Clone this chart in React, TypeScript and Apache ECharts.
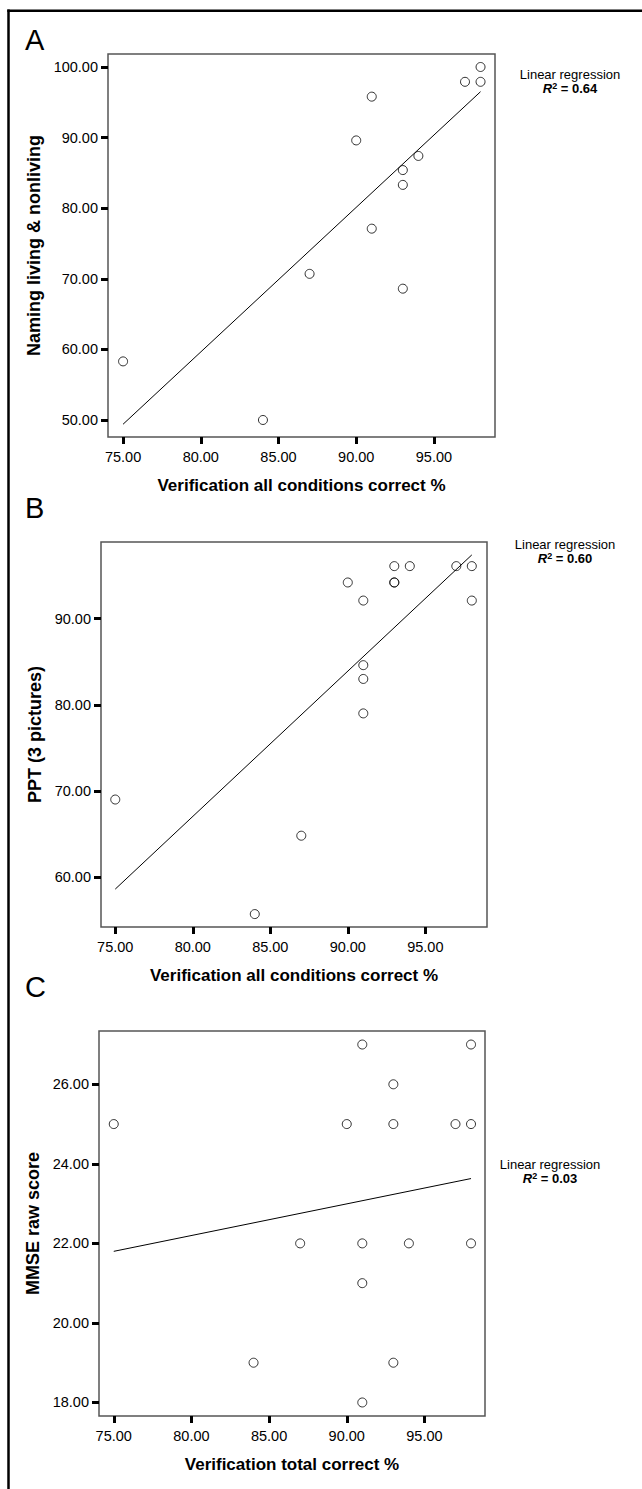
import React, { useEffect, useRef } from "react";
import * as echarts from "echarts";

const FONT = "'Liberation Sans', Arial, Helvetica, sans-serif";

// Shared x tick values
const xTickValues = [75, 80, 85, 90, 95];

// Panel A
const aX = [98, 97, 98, 91, 90, 94, 93, 93, 91, 87, 93, 75, 84];
const aY = [100, 97.9, 97.9, 95.8, 89.6, 87.4, 85.4, 83.3, 77.1, 70.7, 68.6, 58.3, 50];
const aFitX = [75, 98];
const aFitY = [49.4, 96.5];
const aYTicks = [50, 60, 70, 80, 90, 100];

// Panel B
const bX = [93, 94, 97, 98, 90, 93, 93, 91, 98, 91, 91, 91, 75, 87, 84];
const bY = [96.1, 96.1, 96.1, 96.1, 94.2, 94.2, 94.2, 92.1, 92.1, 84.6, 83.0, 79.0, 69.0, 64.8, 55.7];
const bFitX = [75, 98];
const bFitY = [58.6, 97.4];
const bYTicks = [60, 70, 80, 90];

// Panel C
const cX = [91, 98, 93, 75, 90, 93, 97, 98, 87, 91, 94, 98, 91, 84, 93, 91];
const cY = [27, 27, 26, 25, 25, 25, 25, 25, 22, 22, 22, 22, 21, 19, 19, 18];
const cFitX = [75, 98];
const cFitY = [21.8, 23.63];
const cYTicks = [18, 20, 22, 24, 26];

const r2Values = ["0.64", "0.60", "0.03"];

const zip = (xs: number[], ys: number[]) => xs.map((x, i) => [x, ys[i]]);

function xAxisCfg(gridIndex: number, min: number, max: number, name: string, nameGap: number) {
  return {
    type: "value",
    gridIndex,
    min,
    max,
    name,
    nameLocation: "middle",
    nameGap,
    nameTextStyle: { fontFamily: FONT, fontSize: 17, fontWeight: "bold", color: "#000" },
    axisLine: { show: false, onZero: false },
    axisTick: { show: true, length: 7, customValues: xTickValues, lineStyle: { color: "#000", width: 3 } },
    axisLabel: {
      customValues: xTickValues,
      formatter: (v: number) => v.toFixed(2),
      fontFamily: FONT,
      fontSize: 14.5,
      color: "#000",
      margin: 12,
    },
    splitLine: { show: false },
  };
}

function yAxisCfg(gridIndex: number, min: number, max: number, ticks: number[], name: string, nameGap: number) {
  return {
    type: "value",
    gridIndex,
    min,
    max,
    name,
    nameLocation: "middle",
    nameGap,
    nameTextStyle: { fontFamily: FONT, fontSize: 18, fontWeight: "bold", color: "#000" },
    axisLine: { show: false, onZero: false },
    axisTick: { show: true, length: 7, customValues: ticks, lineStyle: { color: "#000", width: 3 } },
    axisLabel: {
      customValues: ticks,
      formatter: (v: number) => v.toFixed(2),
      fontFamily: FONT,
      fontSize: 14.5,
      color: "#000",
      margin: 10,
    },
    splitLine: { show: false },
  };
}

function scatterSeries(idx: number, data: number[][]) {
  return {
    type: "scatter",
    xAxisIndex: idx,
    yAxisIndex: idx,
    data,
    symbol: "circle",
    symbolSize: 9,
    itemStyle: { color: "rgba(0,0,0,0)", borderColor: "#000", borderWidth: 1 },
    z: 3,
  };
}

function fitSeries(idx: number, data: number[][]) {
  return {
    type: "line",
    xAxisIndex: idx,
    yAxisIndex: idx,
    data,
    symbol: "none",
    lineStyle: { color: "#000", width: 1 },
    z: 2,
  };
}

function annotation(cx: number, y: number, r2: string) {
  return [
    {
      type: "text",
      x: cx,
      y: y - 1,
      style: {
        text: "Linear regression",
        fontFamily: FONT,
        fontSize: 13,
        fill: "#000",
        align: "center",
        verticalAlign: "middle",
      },
    },
    {
      type: "text",
      x: cx,
      y: y + 13,
      style: {
        text: "{i|R}{s|2}{b| = " + r2 + "}",
        fontFamily: FONT,
        fill: "#000",
        align: "center",
        verticalAlign: "middle",
        rich: {
          i: { fontFamily: FONT, fontSize: 13, fontWeight: "bold", fontStyle: "italic", fill: "#000", lineHeight: 13 },
          s: { fontFamily: FONT, fontSize: 9, fontWeight: "bold", fill: "#000", verticalAlign: "top", lineHeight: 13 },
          b: { fontFamily: FONT, fontSize: 13, fontWeight: "bold", fill: "#000", lineHeight: 13 },
        },
      },
    },
  ];
}

function panelLetter(letter: string, y: number) {
  return {
    type: "text",
    x: 25,
    y,
    style: { text: letter, fontFamily: FONT, fontSize: 29, fill: "#000", align: "left", verticalAlign: "top" },
  };
}

const gridStyle = { show: true, borderColor: "#555", borderWidth: 1.5, backgroundColor: "transparent" };

const option = {
  animation: false,
  backgroundColor: "#fff",
  grid: [
    { ...gridStyle, left: 108, top: 54, width: 387, height: 383 },
    { ...gridStyle, left: 101, top: 542, width: 386, height: 385 },
    { ...gridStyle, left: 99, top: 1031, width: 386, height: 385 },
  ],
  xAxis: [
    xAxisCfg(0, 74.03, 98.93, "Verification all conditions correct %", 40),
    xAxisCfg(1, 74.08, 98.98, "Verification all conditions correct %", 40),
    xAxisCfg(2, 74.05, 98.9, "Verification total correct %", 40),
  ],
  yAxis: [
    yAxisCfg(0, 47.59, 101.84, aYTicks, "Naming living & nonliving", 52),
    yAxisCfg(1, 54.2, 98.9, bYTicks, "PPT (3 pictures)", 45),
    yAxisCfg(2, 17.66, 27.34, cYTicks, "MMSE raw score", 43),
  ],
  series: [
    scatterSeries(0, zip(aX, aY)),
    fitSeries(0, zip(aFitX, aFitY)),
    scatterSeries(1, zip(bX, bY)),
    fitSeries(1, zip(bFitX, bFitY)),
    scatterSeries(2, zip(cX, cY)),
    fitSeries(2, zip(cFitX, cFitY)),
  ],
  graphic: [
    { type: "line", shape: { x1: 8.5, y1: 9.5, x2: 8.5, y2: 1489 }, style: { stroke: "#000", lineWidth: 2.5 } },
    { type: "line", shape: { x1: 7.3, y1: 10.7, x2: 642, y2: 10.7 }, style: { stroke: "#000", lineWidth: 2.5 } },
    panelLetter("A", 25),
    panelLetter("B", 493),
    panelLetter("C", 972),
    ...annotation(570, 75, r2Values[0]),
    ...annotation(565, 545, r2Values[1]),
    ...annotation(550, 1165, r2Values[2]),
  ],
};

export default function App() {
  const ref = useRef<HTMLDivElement>(null);
  useEffect(() => {
    if (!ref.current) return;
    const chart = echarts.init(ref.current, null, { renderer: "svg" });
    chart.setOption(option as any);
    return () => chart.dispose();
  }, []);
  return <div ref={ref} style={{ position: "absolute", left: 0, top: 0, width: 642, height: 1489 }} />;
}
